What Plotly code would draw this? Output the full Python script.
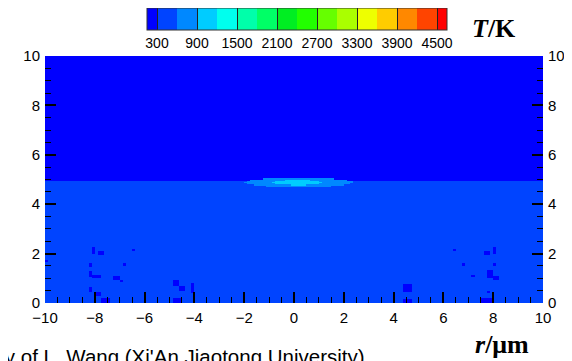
import numpy as np
import plotly.graph_objects as go

# ---- data ----
levels = [300, 600, 900, 1200, 1500, 1800, 2100, 2400, 2700, 3000, 3300, 3600, 3900, 4200, 4500]
level_colors = ["#0000ff", "#0044ff", "#0088ff", "#00ccff", "#00ffee", "#00ffaa", "#00ff66",
                "#00ee22", "#22ff00", "#66ff00", "#aaff00", "#eeff00", "#ffcc00", "#ff8800",
                "#ff4400", "#ff0000"]
cbar_ticks = [300, 900, 1500, 2100, 2700, 3300, 3900, 4500]

T_gas = 200          # upper region (below 300 K)
T_liquid = 450       # lower region
interface_z = 4.93   # um

# hot spot at the interface: (temperature, centre r, centre z, half width, half height)
hot_T = [750, 1050]
hot_rc = [0.2, 0.15]
hot_zc = [4.88, 4.88]
hot_hw = [2.2, 1.0]
hot_hh = [0.19, 0.11]

# cold (< 300 K) specks in the lower region: r0, r1, z0, z1
spot_r0 = [-8.15, -7.85, -6.55, -8.3, -6.85, -8.3, -8.1, -7.2, -7.0, -8.3, -7.95, -7.8, -4.85, -4.6, -4.1, -4.85, -9.95,
           7.6, 7.95, 6.4, 8.0, 6.75, 7.8, 8.05, 7.1, 4.7, 4.4, 7.75, 7.45, 4.4]
spot_r1 = [-7.95, -7.6, -6.4, -8.1, -6.75, -8.1, -7.8, -7.05, -6.9, -8.1, -7.8, -7.35, -4.6, -4.4, -4.0, -4.45, -9.85,
           7.85, 8.15, 6.55, 8.1, 6.85, 8.05, 8.3, 7.2, 4.8, 4.8, 7.85, 8.0, 4.8]
spot_z0 = [2.0, 1.95, 2.1, 1.45, 1.5, 1.05, 1.0, 0.95, 0.85, 0.45, 0.3, 0.0, 0.7, 0.5, 0.4, 0.0, 1.65,
           1.95, 2.0, 2.1, 1.5, 1.5, 1.0, 0.95, 1.05, 0.95, 0.45, 0.4, 0.0, 0.0]
spot_z1 = [2.25, 2.1, 2.2, 1.6, 1.6, 1.3, 1.15, 1.1, 0.95, 0.65, 0.45, 0.2, 0.95, 0.7, 0.8, 0.2, 1.75,
           2.1, 2.25, 2.2, 1.6, 1.6, 1.35, 1.1, 1.15, 1.05, 0.75, 0.5, 0.2, 0.15]

x_ticks = [-10, -8, -6, -4, -2, 0, 2, 4, 6, 8, 10]
y_ticks = [0, 2, 4, 6, 8, 10]

# ---- build field on a grid ----
dr, dz = 0.125, 0.05
r = np.arange(-10 + dr / 2, 10, dr)
z = np.arange(0 + dz / 2, 10, dz)
R, Z = np.meshgrid(r, z)
T = np.where(Z > interface_z, T_gas, T_liquid).astype(float)
for t, rc, zc, hw, hh in zip(hot_T, hot_rc, hot_zc, hot_hw, hot_hh):
    m = ((R - rc) / hw) ** 2 + ((Z - zc) / hh) ** 2 <= 1
    T[m] = t
for a, b, c, d in zip(spot_r0, spot_r1, spot_z0, spot_z1):
    m = (R >= a) & (R <= b) & (Z >= c) & (Z <= d)
    T[m] = T_gas

zmin, zmax = 150, 4650
bounds = [zmin] + levels + [zmax]
cs = []
for i, col in enumerate(level_colors):
    lo = (bounds[i] - zmin) / (zmax - zmin)
    hi = (bounds[i + 1] - zmin) / (zmax - zmin)
    cs.append([lo, col])
    cs.append([hi, col])

# page body has an 8px margin; figure sized to fit the window
OFF = 8
W, H = 572 - OFF, 361 - OFF
L, T_, Rm, B = 45 - OFF, 56 - OFF, 29, 58
pw, ph = W - L - Rm, H - T_ - B

def px(xp):  # page pixel -> paper x
    return (xp - OFF - L) / pw

def py(yp):  # page pixel -> paper y
    return (H - B - (yp - OFF)) / ph

fig = go.Figure()
fig.add_trace(go.Heatmap(
    x=r, y=z, z=T, colorscale=cs, zmin=zmin, zmax=zmax, zsmooth=False,
    hoverinfo="skip",
    colorbar=dict(
        orientation="h", x=px(297), xanchor="center", y=py(8), yanchor="top",
        len=300, lenmode="pixels", thickness=22, thicknessmode="pixels",
        xpad=0, ypad=0, outlinecolor="#333", outlinewidth=1,
        tickvals=cbar_ticks, ticks="inside", ticklen=22, tickcolor="#222", tickwidth=1,
        tickfont=dict(family="Arial, Liberation Sans", size=14, color="black"),
    ),
))
fig.add_trace(go.Scatter(x=[0], y=[0], yaxis="y2", mode="markers",
                         marker=dict(opacity=0), showlegend=False, hoverinfo="skip"))

axfont = dict(family="Arial, Liberation Sans", size=15, color="black")
common = dict(ticks="inside", ticklen=11, tickwidth=2, tickcolor="black",
              showgrid=False, zeroline=False, showline=False, tickfont=axfont,
              minor=dict(ticks="inside", ticklen=6, tickwidth=1, tickcolor="black", dtick=0.5, showgrid=False),
              ticklabelstandoff=4)
fig.update_layout(
    width=W, height=H, margin=dict(l=L, r=Rm, t=T_, b=B, autoexpand=False),
    paper_bgcolor="white", plot_bgcolor="white", showlegend=False,
    xaxis=dict(range=[-10, 10], tickvals=x_ticks, **common),
    yaxis=dict(range=[0, 10], tickvals=y_ticks, **common),
    yaxis2=dict(range=[0, 10], tickvals=y_ticks, overlaying="y", side="right", matches="y", **common),
    annotations=[
        dict(text="<b><i>T</i>/K</b>", x=px(494), y=py(28), xref="paper", yref="paper",
             xanchor="center", yanchor="middle", showarrow=False,
             font=dict(family="Times New Roman, Liberation Serif", size=26, color="black")),
        dict(text="<b><i>r</i>/μm</b>", x=px(502), y=py(344), xref="paper", yref="paper",
             xanchor="center", yanchor="middle", showarrow=False,
             font=dict(family="Times New Roman, Liberation Serif", size=26, color="black")),
        dict(text="Courtesy of L. Wang (Xi'An Jiaotong University)", x=px(367), y=py(356),
             xref="paper", yref="paper", xanchor="right", yanchor="middle", showarrow=False,
             font=dict(family="Arial, Liberation Sans", size=20.5, color="black")),
    ],
)
fig.write_html("out.html")
